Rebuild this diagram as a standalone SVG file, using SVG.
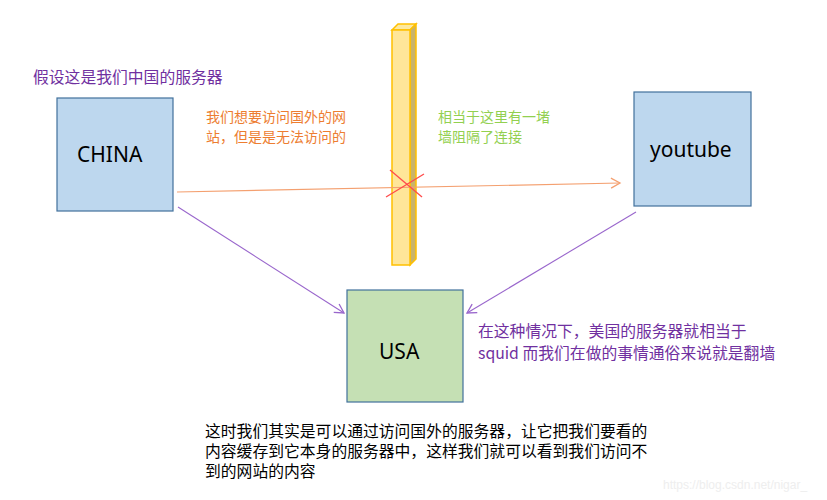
<svg xmlns="http://www.w3.org/2000/svg" width="827" height="500" viewBox="0 0 827 500">
<style>
.box{stroke:#41719c;stroke-width:1.2}
.lbl{font-family:"Noto Sans","Noto Sans CJK SC",sans-serif;font-size:21px;fill:#000}
.cn{font-family:"Noto Sans CJK SC",sans-serif;font-size:14px}
.big{font-size:15.8px}
</style>
<defs>
<marker id="ao" markerWidth="12" markerHeight="12" refX="10" refY="6" orient="auto" markerUnits="userSpaceOnUse"><path d="M1,1 L10,6 L1,11" fill="none" stroke="#f4a070" stroke-width="1.3"/></marker>
<marker id="ap" markerWidth="12" markerHeight="12" refX="10" refY="6" orient="auto" markerUnits="userSpaceOnUse"><path d="M1,1 L10,6 L1,11" fill="none" stroke="#9966cc" stroke-width="1.3"/></marker>
</defs>
<rect width="827" height="500" fill="#fff"/>
<g id="wall">
<polygon points="392,30 398,24 416,24 410,30" fill="#fde9a0" stroke="#ffc000" stroke-width="1.5"/>
<polygon points="410,30 416,24 416,259 410,265" fill="#c9b36a" stroke="#ffc000" stroke-width="1.5"/>
<rect x="392" y="30" width="18" height="235" fill="#ffe699" stroke="#ffc000" stroke-width="1.5"/>
</g>
<g id="china"><rect class="box" x="57" y="98" width="116" height="113" fill="#bdd7ee"/><text class="lbl" x="77" y="162">CHINA</text></g>
<g id="youtube"><rect class="box" x="634" y="92" width="117" height="114" fill="#bdd7ee"/><text class="lbl" x="650" y="157">youtube</text></g>
<g id="usa"><rect class="box" x="347" y="290" width="116" height="112" fill="#c5e0b4"/><text class="lbl" x="379" y="359">USA</text></g>
<g id="connectors">
<line x1="177" y1="192" x2="620" y2="183" stroke="#f4a070" stroke-width="1.2" marker-end="url(#ao)"/>
<line x1="178" y1="207" x2="344" y2="313" stroke="#9966cc" stroke-width="1.1" marker-end="url(#ap)"/>
<line x1="636" y1="212" x2="467" y2="313" stroke="#9966cc" stroke-width="1.1" marker-end="url(#ap)"/>
<line x1="390" y1="170" x2="422" y2="197" stroke="#ff4b4b" stroke-width="1.3"/>
<line x1="424" y1="174" x2="386" y2="197" stroke="#ff4b4b" stroke-width="1.3"/>
</g>
<g class="cn">
<text class="big" x="33" y="83" fill="#7030a0">假设这是我们中国的服务器</text>
<text x="206" y="122" fill="#ed7d31">我们想要访问国外的网</text>
<text x="206" y="142" fill="#ed7d31">站，但是是无法访问的</text>
<text x="438" y="122" fill="#92d050">相当于这里有一堵</text>
<text x="438" y="142" fill="#92d050">墙阻隔了连接</text>
<text class="big" x="478" y="337" fill="#7030a0">在这种情况下，美国的服务器就相当于</text>
<text class="big" x="478" y="359" fill="#7030a0">squid 而我们在做的事情通俗来说就是翻墙</text>
<text class="big" x="205" y="437" fill="#000">这时我们其实是可以通过访问国外的服务器，让它把我们要看的</text>
<text class="big" x="205" y="457" fill="#000">内容缓存到它本身的服务器中，这样我们就可以看到我们访问不</text>
<text class="big" x="205" y="477" fill="#000">到的网站的内容</text>
</g>
<text x="663" y="489" font-family="Liberation Sans,sans-serif" font-size="12" fill="#eeeeee">https://blog.csdn.net/nigar_</text>
</svg>
